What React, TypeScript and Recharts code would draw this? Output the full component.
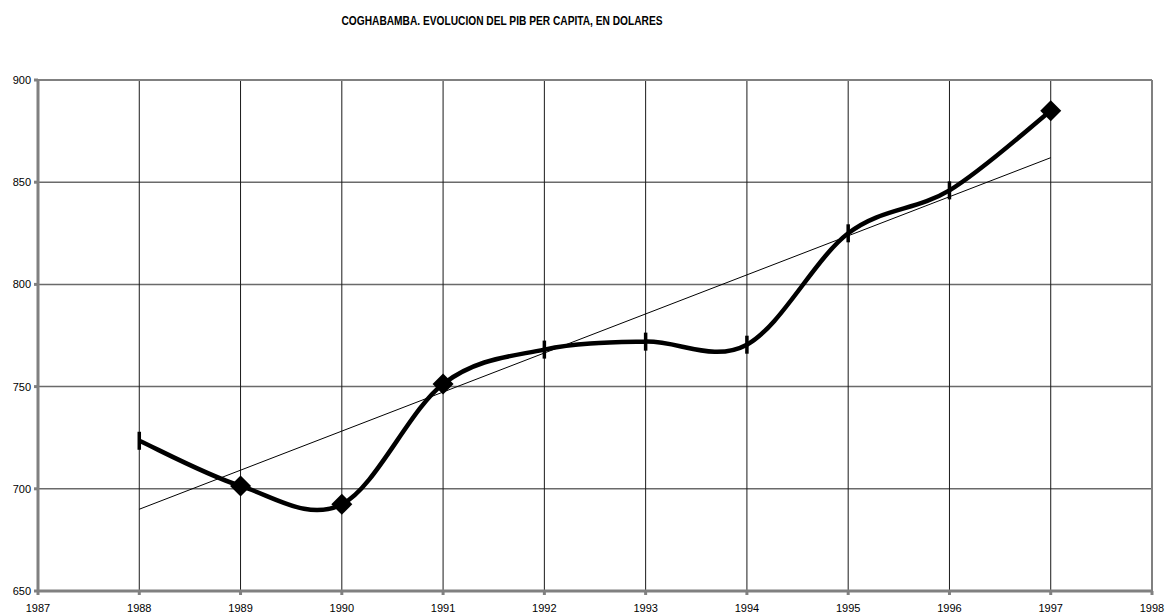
import {
  LineChart,
  Line,
  XAxis,
  YAxis,
  CartesianGrid,
  ReferenceLine,
} from "recharts";

const years = [1988, 1989, 1990, 1991, 1992, 1993, 1994, 1995, 1996, 1997];
const pibPerCapita = [723.5, 701.4, 692.4, 751.3, 768.1, 772, 770.5, 825, 846, 885];
const markers = ["dash", "diamond", "diamond", "diamond", "dash", "dash", "dash", "dash", "dash", "diamond"];
const trendYears = [1988, 1997];
const trendValues = [690, 862];
const xTicks = [1987, 1988, 1989, 1990, 1991, 1992, 1993, 1994, 1995, 1996, 1997, 1998];
const yTicks = [650, 700, 750, 800, 850, 900];

const data = years.map((year, i) => ({
  year,
  pib: pibPerCapita[i],
  marker: markers[i],
}));

// Excel-like smoothed line (catmull-rom through every point)
function smoothCurve(context: any) {
  let pts: number[][] = [];
  return {
    areaStart() {},
    areaEnd() {},
    lineStart() {
      pts = [];
    },
    point(x: number, y: number) {
      pts.push([+x, +y]);
    },
    lineEnd() {
      if (!pts.length) return;
      context.moveTo(pts[0][0], pts[0][1]);
      for (let i = 0; i < pts.length - 1; i++) {
        const p0 = pts[i - 1] || pts[i];
        const p1 = pts[i];
        const p2 = pts[i + 1];
        const p3 = pts[i + 2] || p2;
        context.bezierCurveTo(
          p1[0] + (p2[0] - p0[0]) / 6,
          p1[1] + (p2[1] - p0[1]) / 6,
          p2[0] - (p3[0] - p1[0]) / 6,
          p2[1] - (p3[1] - p1[1]) / 6,
          p2[0],
          p2[1]
        );
      }
    },
  };
}

const renderDot = (props: any) => {
  const { cx, cy, payload, index } = props;
  if (payload.marker === "diamond") {
    const s = 10.5;
    return (
      <polygon
        key={index}
        points={`${cx},${cy - s} ${cx + s},${cy} ${cx},${cy + s} ${cx - s},${cy}`}
        fill="#000"
      />
    );
  }
  return <rect key={index} x={cx - 1.75} y={cy - 9} width={3.5} height={18} fill="#000" />;
};

export default function App() {
  return (
    <div style={{ position: "absolute", left: 0, top: 0, width: 1167, height: 614, background: "#fff" }}>
      <svg width={1167} height={614} style={{ position: "absolute", left: 0, top: 0 }}>
        <text
          x={502}
          y={25}
          textAnchor="middle"
          fontFamily="Liberation Sans, Arial, sans-serif"
          fontWeight="bold"
          fontSize={12}
          textLength={321}
          lengthAdjust="spacingAndGlyphs"
          fill="#000"
        >
          COGHABAMBA. EVOLUCION DEL PIB PER CAPITA, EN DOLARES
        </text>
      </svg>
      <LineChart
        width={1167}
        height={614}
        data={data}
        margin={{ top: 80, right: 15, bottom: 0, left: 0 }}
        style={{ position: "absolute", left: 0, top: 0 }}
      >
        <CartesianGrid vertical={false} stroke="#6a6a6a" strokeWidth={1.5} />
        <CartesianGrid horizontal={false} stroke="#1a1a1a" strokeWidth={1} />
        <XAxis
          dataKey="year"
          type="number"
          domain={[1987, 1998]}
          ticks={xTicks}
          interval={0}
          height={23}
          stroke="#808080"
          strokeWidth={3}
          tickSize={4}
          tickMargin={9}
          tick={{ fill: "#000", fontSize: 11, fontFamily: "Liberation Sans, Arial, sans-serif" }}
        />
        <YAxis
          type="number"
          domain={[650, 900]}
          ticks={yTicks}
          interval={0}
          width={38}
          stroke="#808080"
          strokeWidth={3}
          tickSize={4}
          tickMargin={3}
          tick={{ fill: "#000", fontSize: 11, fontFamily: "Liberation Sans, Arial, sans-serif" }}
        />
        <ReferenceLine x={1998} stroke="#808080" strokeWidth={2} />
        <ReferenceLine y={900} stroke="#808080" strokeWidth={2} />
        <ReferenceLine
          segment={[
            { x: trendYears[0], y: trendValues[0] },
            { x: trendYears[1], y: trendValues[1] },
          ]}
          stroke="#000"
          strokeWidth={1}
        />
        <Line
          dataKey="pib"
          type={smoothCurve as any}
          stroke="#000"
          strokeWidth={4.5}
          dot={renderDot}
          activeDot={false}
          isAnimationActive={false}
        />
      </LineChart>
    </div>
  );
}
